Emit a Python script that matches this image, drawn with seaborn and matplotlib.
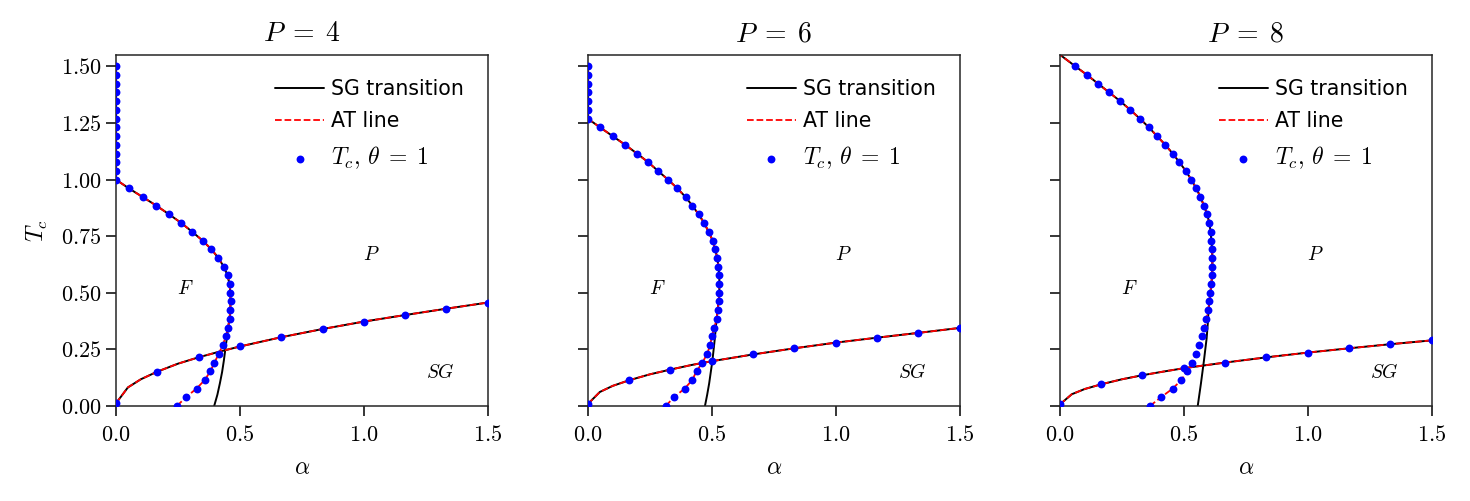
import matplotlib
matplotlib.use("Agg")
import matplotlib.pyplot as plt
from matplotlib.ticker import FuncFormatter
import seaborn as sns

# temperature grid used for the F-boundary points (same in every panel)
T_grid = [0.0, 0.038, 0.077, 0.115, 0.154, 0.192, 0.231, 0.269, 0.308, 0.346,
          0.385, 0.423, 0.462, 0.5, 0.538, 0.577, 0.615, 0.654, 0.692, 0.731,
          0.769, 0.808, 0.846, 0.885, 0.923, 0.962, 1.0, 1.038, 1.077, 1.115,
          1.154, 1.192, 1.231, 1.269, 1.308, 1.346, 1.385, 1.423, 1.462, 1.5]

# alpha_c(T) on the F boundary, one list per P
alpha_F_P4 = [0.246, 0.281, 0.325, 0.358, 0.381, 0.397, 0.415, 0.430, 0.444, 0.452,
              0.458, 0.461, 0.462, 0.461, 0.458, 0.450, 0.435, 0.413, 0.385, 0.349,
              0.308, 0.264, 0.215, 0.163, 0.108, 0.051, 0.0, 0.0, 0.0, 0.0,
              0.0, 0.0, 0.0, 0.0, 0.0, 0.0, 0.0, 0.0, 0.0, 0.0]
alpha_F_P6 = [0.314, 0.346, 0.390, 0.421, 0.438, 0.462, 0.481, 0.493, 0.500, 0.510,
              0.519, 0.523, 0.527, 0.530, 0.530, 0.530, 0.526, 0.522, 0.513, 0.503,
              0.487, 0.469, 0.447, 0.421, 0.394, 0.360, 0.323, 0.283, 0.243, 0.198,
              0.150, 0.100, 0.0485, 0.0, 0.0, 0.0, 0.0, 0.0, 0.0, 0.0]
alpha_F_P8 = [0.363, 0.407, 0.455, 0.490, 0.514, 0.534, 0.550, 0.562, 0.575, 0.583,
              0.591, 0.599, 0.603, 0.607, 0.611, 0.614, 0.615, 0.615, 0.614, 0.611,
              0.608, 0.603, 0.594, 0.581, 0.567, 0.550, 0.530, 0.508, 0.482, 0.455,
              0.425, 0.392, 0.359, 0.323, 0.284, 0.244, 0.199, 0.155, 0.110, 0.063]
# for P=8 the curve leaves the top of the box at alpha=0
top_start_P8 = (0.0, 1.552)

# lower (solid) SG transition branch below the nose
sg_low_T_P4 = [0.0, 0.05, 0.1, 0.15, 0.2, 0.25, 0.3]
sg_low_a_P4 = [0.396, 0.409, 0.419, 0.428, 0.435, 0.441, 0.447]
sg_low_T_P6 = [0.0, 0.05, 0.1, 0.2, 0.3]
sg_low_a_P6 = [0.472, 0.481, 0.489, 0.502, 0.512]
sg_low_T_P8 = [0.0, 0.1, 0.2, 0.3, 0.385]
sg_low_a_P8 = [0.556, 0.569, 0.581, 0.592, 0.598]
join_T = {4: 0.346, 6: 0.385, 8: 0.423}

# SG-P line T_g(alpha)
sg_alpha = [0.0, 0.048, 0.1, 0.167, 0.25, 0.333, 0.417, 0.5, 0.667, 0.833,
            1.0, 1.167, 1.333, 1.5]
sg_T_P4 = [0.012, 0.082, 0.118, 0.152, 0.187, 0.215, 0.240, 0.263, 0.304, 0.340,
           0.373, 0.402, 0.430, 0.457]
sg_T_P6 = [0.009, 0.062, 0.089, 0.114, 0.140, 0.161, 0.181, 0.198, 0.228, 0.255,
           0.280, 0.302, 0.323, 0.345]
sg_T_P8 = [0.007, 0.052, 0.075, 0.096, 0.118, 0.136, 0.152, 0.167, 0.192, 0.215,
           0.236, 0.255, 0.273, 0.290]
sg_dot_idx = [0, 3, 5, 7, 8, 9, 10, 11, 12, 13]

P_values = [4, 6, 8]
alpha_F = [alpha_F_P4, alpha_F_P6, alpha_F_P8]
sg_T = [sg_T_P4, sg_T_P6, sg_T_P8]
sg_low = [(sg_low_a_P4, sg_low_T_P4), (sg_low_a_P6, sg_low_T_P6), (sg_low_a_P8, sg_low_T_P8)]

sns.set_style("ticks")
plt.rcParams["mathtext.fontset"] = "cm"
plt.rcParams["font.family"] = ["DejaVu Sans"]
plt.rcParams["axes.linewidth"] = 1.1
plt.rcParams["xtick.major.size"] = 7
plt.rcParams["ytick.major.size"] = 7
plt.rcParams["xtick.major.width"] = 1.1
plt.rcParams["ytick.major.width"] = 1.1
plt.rcParams["xtick.color"] = "black"
plt.rcParams["ytick.color"] = "black"
plt.rcParams["text.color"] = "black"
plt.rcParams["axes.labelcolor"] = "black"

fig, axes = plt.subplots(1, 3, figsize=(14.7, 5.01), dpi=100, sharey=True)
fig.subplots_adjust(left=0.0789, right=0.974, bottom=0.1896, top=0.890, wspace=0.269)

fmt2 = FuncFormatter(lambda v, pos: f"${v:.2f}$")
fmt1 = FuncFormatter(lambda v, pos: f"${v:.1f}$")

for i, (ax, P) in enumerate(zip(axes, P_values)):
    aF = alpha_F[i]
    F_a = list(aF)
    F_T = list(T_grid)
    if P == 8:
        F_a = F_a + [top_start_P8[0]]
        F_T = F_T + [top_start_P8[1]]
    # black: solid SG transition (lower branch + upper F boundary)
    low_a, low_T = sg_low[i]
    up_a = [a for a, t in zip(F_a, F_T) if t >= join_T[P]]
    up_T = [t for t in F_T if t >= join_T[P]]
    sns.lineplot(x=low_a + up_a, y=low_T + up_T, sort=False, estimator=None,
                 color="black", lw=1.4, ax=ax, label="SG transition")
    sns.lineplot(x=sg_alpha, y=sg_T[i], sort=False, estimator=None,
                 color="black", lw=1.4, ax=ax)
    # red dashed AT line
    sns.lineplot(x=F_a, y=F_T, sort=False, estimator=None,
                 color="red", lw=1.3, ls="--", ax=ax, label="AT line")
    sns.lineplot(x=sg_alpha, y=sg_T[i], sort=False, estimator=None,
                 color="red", lw=1.3, ls="--", ax=ax)
    # blue dots
    sns.scatterplot(x=aF, y=T_grid, color="blue", s=32, linewidth=0, ax=ax,
                    label=r"$T_c,\,\theta\;=\;1$", zorder=3)
    sns.scatterplot(x=[sg_alpha[k] for k in sg_dot_idx], y=[sg_T[i][k] for k in sg_dot_idx],
                    color="blue", s=32, linewidth=0, ax=ax, zorder=3)

    ax.text(0.28, 0.52, "$F$", fontsize=14, ha="center", va="center")
    ax.text(1.03, 0.67, "$P$", fontsize=14, ha="center", va="center")
    ax.text(1.31, 0.15, "$SG$", fontsize=14, ha="center", va="center")

    ax.set_xlim(0, 1.5)
    ax.set_ylim(0, 1.55)
    ax.set_xticks([0, 0.5, 1.0, 1.5])
    ax.set_yticks([0, 0.25, 0.5, 0.75, 1.0, 1.25, 1.5])
    ax.xaxis.set_major_formatter(fmt1)
    ax.yaxis.set_major_formatter(fmt2)
    ax.tick_params(labelsize=16)
    ax.tick_params(axis="x", pad=7)
    ax.set_title(rf"$P\;=\;{P}$", fontsize=20, pad=10)
    ax.set_xlabel(r"$\alpha$", fontsize=17, labelpad=7)
    if i == 0:
        ax.set_ylabel(r"$T_c$", fontsize=17, labelpad=8)
    leg = ax.legend(loc="upper right", frameon=False, fontsize=14.8, handlelength=2.4,
                    handletextpad=0.35, borderaxespad=0.75, labelspacing=0.62)
    leg.get_texts()[2].set_fontsize(17)

fig.savefig("out.png", dpi=100)
